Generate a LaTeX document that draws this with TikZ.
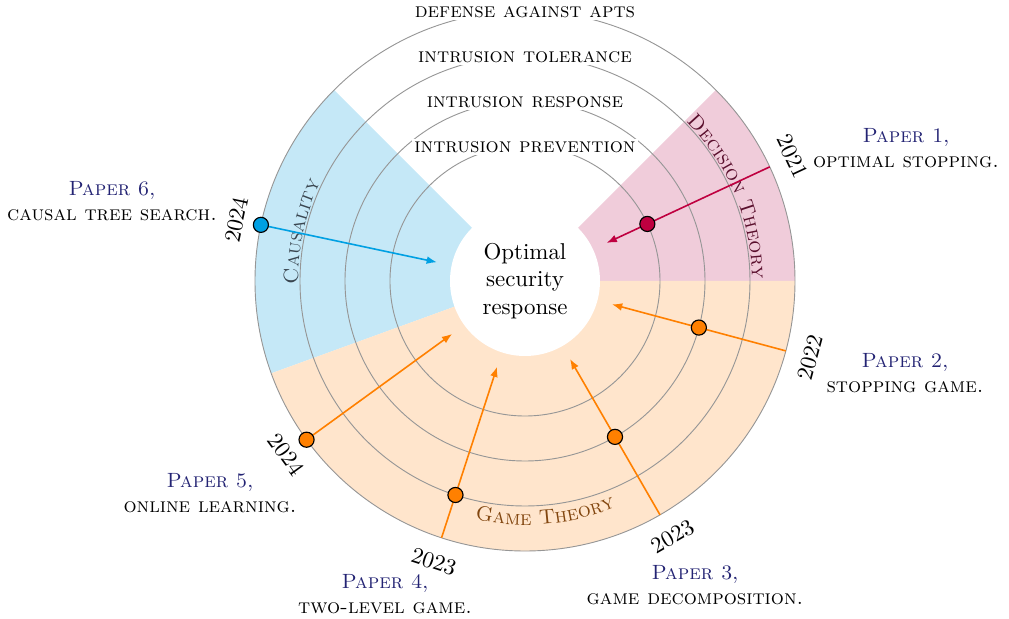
\documentclass[tikz,border=0pt]{standalone}
\usetikzlibrary{arrows.meta,decorations.text}

\definecolor{dtfill}{RGB}{240,204,218}
\definecolor{cafill}{RGB}{197,232,247}
\definecolor{gtfill}{RGB}{255,229,204}
\definecolor{dtline}{RGB}{191,0,64}
\definecolor{caline}{RGB}{0,160,227}
\definecolor{gtline}{RGB}{255,128,0}
\definecolor{dttext}{RGB}{90,15,45}
\definecolor{catext}{RGB}{58,70,80}
\definecolor{gttext}{RGB}{130,70,15}
\definecolor{papercol}{RGB}{35,35,115}
\definecolor{ringcol}{RGB}{150,150,150}

\tikzset{
  ring/.style={draw=ringcol, line width=0.4pt},
  ringlabel/.style={fill=white, inner sep=1pt, font=\small\scshape},
  link/.style={line width=0.7pt, -{Latex[length=4.5pt,width=3.4pt]}},
  dot/.style={circle, draw=black, line width=0.5pt, minimum size=6.6pt, inner sep=0pt},
  yearlabel/.style={inner sep=1pt},
  paperlabel/.style={align=center, inner sep=1pt, font=\small},
}

\newcommand{\papername}[1]{\textcolor{papercol}{\textsc{Paper #1},}}

\begin{document}
\begin{tikzpicture}[x=0.4367pt, y=0.4367pt]
\useasboundingbox (-525,-338) rectangle (484,281);
\coordinate (O) at (0,0);

% research areas as sectors
\fill[dtfill] (O) -- (0:270) arc[start angle=0, end angle=45, radius=270] -- cycle;
\fill[cafill] (O) -- (135:270) arc[start angle=135, end angle=200, radius=270] -- cycle;
\fill[gtfill] (O) -- (200:270) arc[start angle=200, end angle=360, radius=270] -- cycle;
\fill[white] (O) circle[radius=75];

% layers of defense
\draw[ring] (O) circle[radius=135];
\draw[ring] (O) circle[radius=180];
\draw[ring] (O) circle[radius=225];
\draw[ring] (O) circle[radius=270];

\node[ringlabel] (apt) at (90:269) {defense against apts};
\node[ringlabel] (tol) at (90:224) {intrusion tolerance};
\node[ringlabel] (resp) at (90:179) {intrusion response};
\node[ringlabel] (prev) at (90:134) {intrusion prevention};

\node[align=center] (core) at (O) {Optimal\\security\\response};

% sector titles along arcs
\path[decorate, decoration={text along path, text align=center, text color=dttext,
  text={|\small\scshape|Decision Theory}}]
  (60:227) arc[start angle=60, end angle=-15, radius=227];
\path[decorate, decoration={text along path, text align=center, text color=catext,
  text={|\small\scshape|Causality}}]
  (200:227) arc[start angle=200, end angle=135, radius=227];
\path[decorate, decoration={text along path, text align=center, text color=gttext,
  text={|\small\scshape|Game Theory}}]
  (-125:244) arc[start angle=-125, end angle=-45, radius=244];

% paper 1
\coordinate (s1) at (25:270);
\coordinate (e1) at (25:90);
\draw[link, dtline] (s1) -- (e1);
\node[dot, fill=dtline] (d1) at (25:135) {};
\node[yearlabel, rotate=-65] (y1) at (25:295) {2021};
\node[paperlabel] (t1) at (381,133) {\papername{1}\\\textsc{optimal stopping.}};

% paper 2
\coordinate (s2) at (-15:270);
\coordinate (e2) at (-15:90);
\draw[link, gtline] (s2) -- (e2);
\node[dot, fill=gtline] (d2) at (-15:180) {};
\node[yearlabel, rotate=75] (y2) at (-15:295) {2022};
\node[paperlabel] (t2) at (380,-92) {\papername{2}\\\textsc{stopping game.}};

% paper 3
\coordinate (s3) at (-60:270);
\coordinate (e3) at (-60:90);
\draw[link, gtline] (s3) -- (e3);
\node[dot, fill=gtline] (d3) at (-60:180) {};
\node[yearlabel, rotate=30] (y3) at (-60:295) {2023};
\node[paperlabel] (t3) at (170,-304) {\papername{3}\\\textsc{game decomposition.}};

% paper 4
\coordinate (s4) at (-108:270);
\coordinate (e4) at (-108:90);
\draw[link, gtline] (s4) -- (e4);
\node[dot, fill=gtline] (d4) at (-108:225) {};
\node[yearlabel, rotate=-18] (y4) at (-108:295) {2023};
\node[paperlabel] (t4) at (-140,-313) {\papername{4}\\\textsc{two-level game.}};

% paper 5
\coordinate (s5) at (216:270);
\coordinate (e5) at (216:90);
\draw[link, gtline] (s5) -- (e5);
\node[dot, fill=gtline] (d5) at (216:270) {};
\node[yearlabel, rotate=-54] (y5) at (216:295) {2024};
\node[paperlabel] (t5) at (-315,-212) {\papername{5}\\\textsc{online learning.}};

% paper 6
\coordinate (s6) at (168:270);
\coordinate (e6) at (168:90);
\draw[link, caline] (s6) -- (e6);
\node[dot, fill=caline] (d6) at (168:270) {};
\node[yearlabel, rotate=78] (y6) at (168:295) {2024};
\node[paperlabel] (t6) at (-413,80) {\papername{6}\\\textsc{causal tree search.}};
\end{tikzpicture}
\end{document}
